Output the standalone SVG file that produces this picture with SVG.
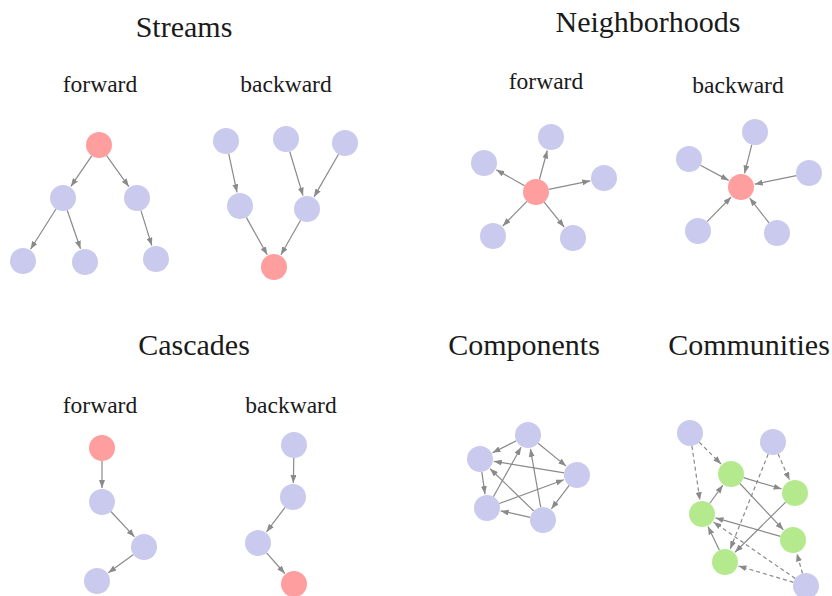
<svg xmlns="http://www.w3.org/2000/svg" width="832" height="596" viewBox="0 0 832 596">
<defs>
<marker id="ah" viewBox="0 0 8 6" refX="8" refY="3" markerWidth="8" markerHeight="6" markerUnits="userSpaceOnUse" orient="auto">
<path d="M0,0 L8,3 L0,6 z" fill="#8a8a8a"/>
</marker>
</defs>
<style>
.t{font-family:"Liberation Serif","DejaVu Serif",serif;font-size:30px;fill:#1a1a1a;text-anchor:middle}
.s{font-family:"Liberation Serif","DejaVu Serif",serif;font-size:23.5px;fill:#1a1a1a;text-anchor:middle}
.e{stroke:#8a8a8a;stroke-width:1.2;fill:none;marker-end:url(#ah)}
.d{stroke-dasharray:4 3}
.p{fill:#c9caee}
.r{fill:#ff9e9e}
.g{fill:#b5e98e}
</style>
<rect width="832" height="596" fill="#ffffff"/>
<g id="titles">
<text class="t" x="184" y="37">Streams</text>
<text class="t" x="648" y="32">Neighborhoods</text>
<text class="t" x="194" y="355">Cascades</text>
<text class="t" x="524" y="355">Components</text>
<text class="t" x="749" y="355">Communities</text>
<text class="s" x="100" y="92">forward</text>
<text class="s" x="286" y="92">backward</text>
<text class="s" x="546" y="89">forward</text>
<text class="s" x="738" y="93">backward</text>
<text class="s" x="100" y="413">forward</text>
<text class="s" x="291" y="413">backward</text>
</g>
<g id="connectors">
<line class="e" x1="91.7" y1="155.8" x2="70.9" y2="186.4"/>
<line class="e" x1="106.6" y1="155.6" x2="128.8" y2="186.6"/>
<line class="e" x1="56.0" y1="209.0" x2="30.5" y2="249.2"/>
<line class="e" x1="67.2" y1="210.3" x2="80.5" y2="248.8"/>
<line class="e" x1="140.9" y1="210.4" x2="151.8" y2="245.6"/>
<line class="e" x1="228.7" y1="153.7" x2="237.0" y2="192.3"/>
<line class="e" x1="289.7" y1="151.5" x2="303.0" y2="195.6"/>
<line class="e" x1="338.5" y1="154.3" x2="314.0" y2="196.9"/>
<line class="e" x1="246.3" y1="217.4" x2="267.2" y2="254.8"/>
<line class="e" x1="300.6" y1="220.3" x2="280.9" y2="254.8"/>
<line class="e" x1="539.4" y1="179.5" x2="547.3" y2="150.5"/>
<line class="e" x1="524.6" y1="185.7" x2="496.2" y2="169.8"/>
<line class="e" x1="548.7" y1="189.4" x2="590.3" y2="180.8"/>
<line class="e" x1="526.9" y1="201.3" x2="502.8" y2="226.0"/>
<line class="e" x1="544.2" y1="202.1" x2="564.2" y2="227.1"/>
<line class="e" x1="751.8" y1="144.6" x2="744.5" y2="173.4"/>
<line class="e" x1="700.4" y1="165.2" x2="728.7" y2="180.4"/>
<line class="e" x1="796.3" y1="175.6" x2="754.7" y2="184.2"/>
<line class="e" x1="707.1" y1="221.7" x2="731.2" y2="197.0"/>
<line class="e" x1="769.0" y1="222.8" x2="749.6" y2="198.0"/>
<line class="e" x1="102" y1="461" x2="102" y2="488"/>
<line class="e" x1="110.9" y1="511.5" x2="134.5" y2="536.8"/>
<line class="e" x1="133.5" y1="554.6" x2="108.3" y2="572.8"/>
<line class="e" x1="293.8" y1="458" x2="293.3" y2="483"/>
<line class="e" x1="285.1" y1="507.3" x2="266.5" y2="531.9"/>
<line class="e" x1="266.6" y1="552.8" x2="284.8" y2="573.5"/>
<line class="e" x1="516.4" y1="440.8" x2="492.5" y2="452.7"/>
<line class="e" x1="538.1" y1="443.2" x2="566.1" y2="466.1"/>
<line class="e" x1="564.2" y1="472.9" x2="493.8" y2="461.3"/>
<line class="e" x1="481.8" y1="471.9" x2="485.0" y2="494.1"/>
<line class="e" x1="493.4" y1="496.7" x2="521.1" y2="447.2"/>
<line class="e" x1="499.2" y1="503.5" x2="563.9" y2="479.8"/>
<line class="e" x1="533.7" y1="511.0" x2="490.1" y2="468.7"/>
<line class="e" x1="540.7" y1="507.2" x2="530.4" y2="448.8"/>
<line class="e" x1="569.2" y1="485.4" x2="551.4" y2="508.8"/>
<line class="e" x1="530.3" y1="517.3" x2="500.7" y2="510.9"/>
<line class="e d" x1="699.2" y1="442.2" x2="721.1" y2="464.1"/>
<line class="e d" x1="691.9" y1="445.9" x2="699.9" y2="500.2"/>
<line class="e d" x1="778.1" y1="453.9" x2="789.5" y2="480.1"/>
<line class="e d" x1="768.2" y1="454.1" x2="730.2" y2="549.0"/>
<line class="e d" x1="795.3" y1="578.6" x2="713.5" y2="522.0"/>
<line class="e d" x1="793.5" y1="582.3" x2="738.4" y2="566.0"/>
<line class="e d" x1="802.5" y1="573.5" x2="796.8" y2="553.5"/>
<line class="e" x1="743.5" y1="477.7" x2="781.6" y2="489.0"/>
<line class="e" x1="739.9" y1="483.5" x2="783.4" y2="529.8"/>
<line class="e" x1="709.6" y1="503.5" x2="722.8" y2="485.3"/>
<line class="e" x1="780.5" y1="536.4" x2="715.5" y2="517.9"/>
<line class="e" x1="785.7" y1="502.1" x2="735.0" y2="552.2"/>
<line class="e" x1="719.4" y1="550.3" x2="708.0" y2="526.6"/>
</g>
<g id="streams-forward">
<circle class="r" cx="99" cy="145" r="13"/>
<circle class="p" cx="63" cy="198" r="13"/>
<circle class="p" cx="137" cy="198" r="13"/>
<circle class="p" cx="23" cy="261" r="13"/>
<circle class="p" cx="85" cy="262" r="13"/>
<circle class="p" cx="156" cy="259" r="13"/>
</g>
<g id="streams-backward">
<circle class="p" cx="226" cy="141" r="13"/>
<circle class="p" cx="286" cy="139" r="13"/>
<circle class="p" cx="345" cy="143" r="13"/>
<circle class="p" cx="240" cy="206" r="13"/>
<circle class="p" cx="307" cy="209" r="13"/>
<circle class="r" cx="274" cy="267" r="13"/>
</g>
<g id="neighborhoods-forward">
<circle class="r" cx="536" cy="192" r="13"/>
<circle class="p" cx="551" cy="137" r="13"/>
<circle class="p" cx="484" cy="163" r="13"/>
<circle class="p" cx="604" cy="178" r="13"/>
<circle class="p" cx="493" cy="236" r="13"/>
<circle class="p" cx="573" cy="238" r="13"/>
</g>
<g id="neighborhoods-backward">
<circle class="r" cx="741" cy="187" r="13"/>
<circle class="p" cx="755" cy="132" r="13"/>
<circle class="p" cx="689" cy="159" r="13"/>
<circle class="p" cx="809" cy="173" r="13"/>
<circle class="p" cx="698" cy="231" r="13"/>
<circle class="p" cx="777" cy="233" r="13"/>
</g>
<g id="cascades-forward">
<circle class="r" cx="102" cy="448" r="13"/>
<circle class="p" cx="102" cy="502" r="13"/>
<circle class="p" cx="144" cy="547" r="13"/>
<circle class="p" cx="97" cy="581" r="13"/>
</g>
<g id="cascades-backward">
<circle class="p" cx="294" cy="445" r="13"/>
<circle class="p" cx="293" cy="497" r="13"/>
<circle class="p" cx="258" cy="543" r="13"/>
<circle class="r" cx="294" cy="584" r="13"/>
</g>
<g id="components">
<circle class="p" cx="528" cy="435" r="13"/>
<circle class="p" cx="480" cy="459" r="13"/>
<circle class="p" cx="577" cy="475" r="13"/>
<circle class="p" cx="487" cy="508" r="13"/>
<circle class="p" cx="543" cy="520" r="13"/>
</g>
<g id="communities">
<circle class="p" cx="690" cy="433" r="13"/>
<circle class="p" cx="773" cy="442" r="13"/>
<circle class="g" cx="731" cy="474" r="13"/>
<circle class="g" cx="795" cy="493" r="13"/>
<circle class="g" cx="702" cy="514" r="13"/>
<circle class="g" cx="793" cy="540" r="13"/>
<circle class="g" cx="725" cy="562" r="13"/>
<circle class="p" cx="806" cy="586" r="13"/>
</g>
</svg>
